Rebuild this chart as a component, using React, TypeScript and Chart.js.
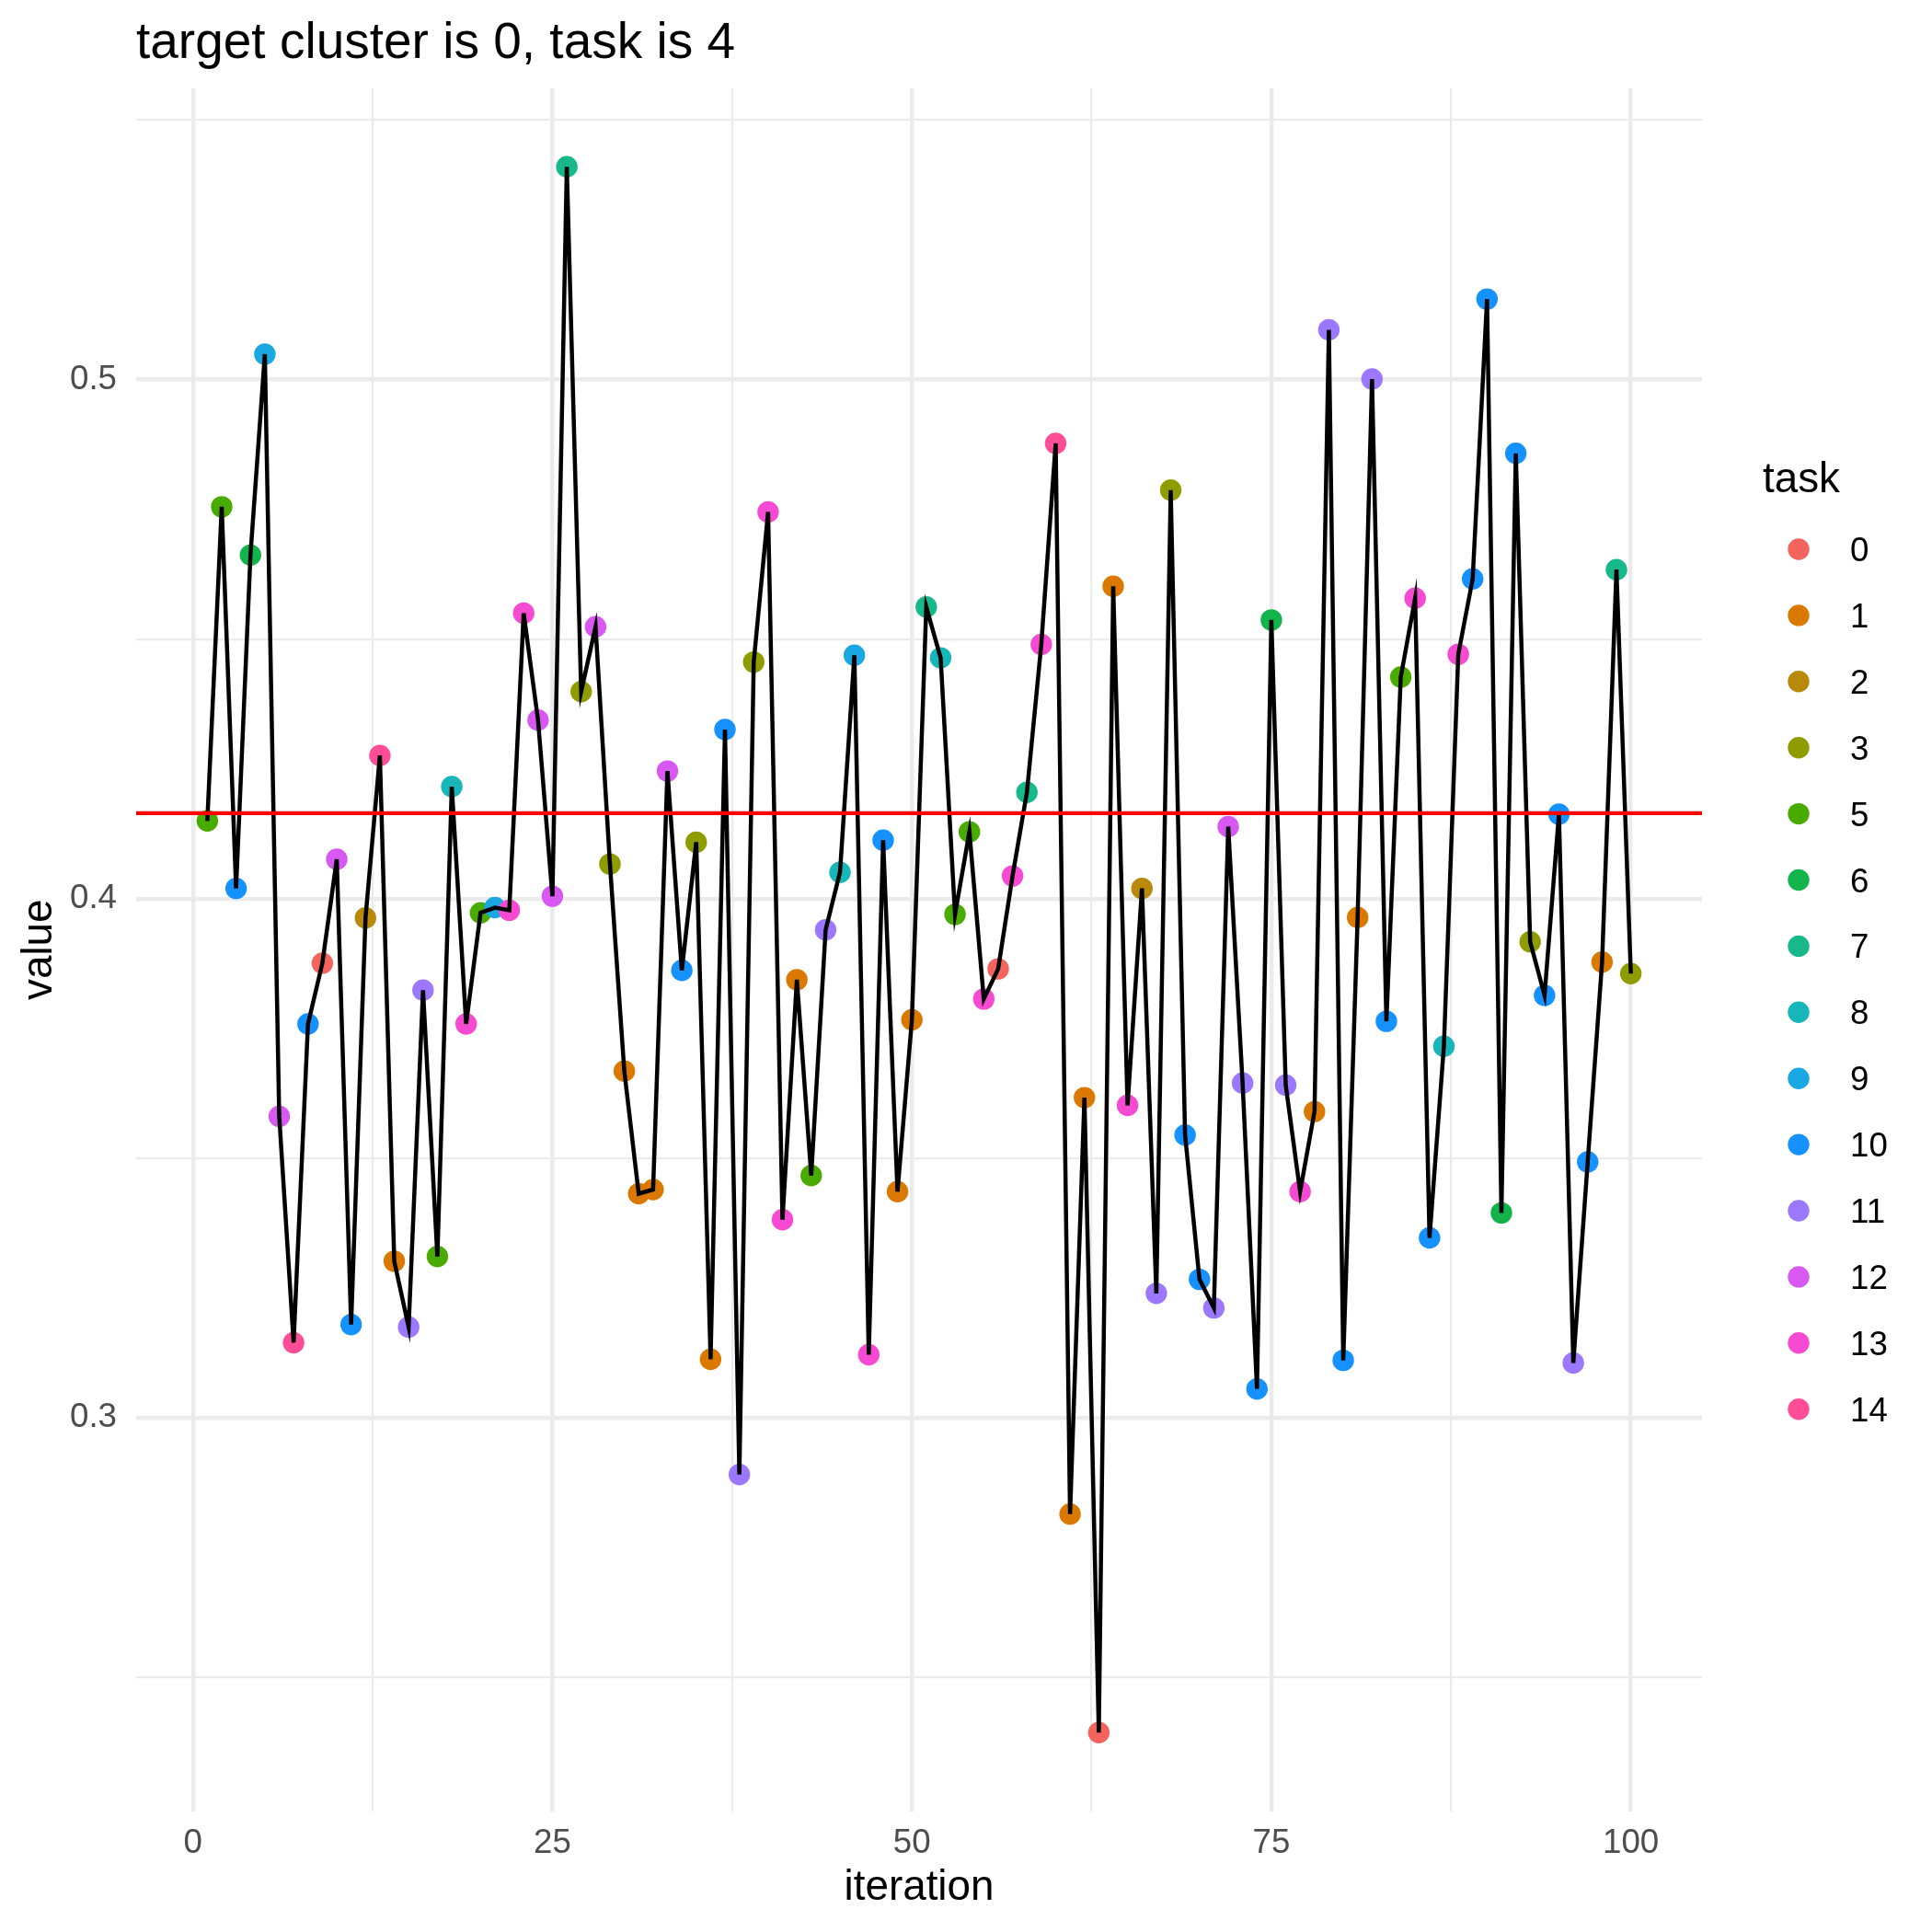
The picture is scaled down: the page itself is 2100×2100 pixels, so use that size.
import React, { useEffect, useRef } from "react";
import { Chart, registerables } from "chart.js";

Chart.register(...registerables);

// ---------- data ----------
const values = [
  0.4150, 0.4755, 0.4020, 0.4662, 0.5049, 0.3581, 0.3145, 0.3759, 0.3876, 0.4076,
  0.3180, 0.3963, 0.4276, 0.3302, 0.3175, 0.3824, 0.3311, 0.4216, 0.3759, 0.3973,
  0.3983, 0.3978, 0.4550, 0.4344, 0.4005, 0.5410, 0.4399, 0.4524, 0.4067, 0.3668,
  0.3432, 0.3440, 0.4246, 0.3862, 0.4109, 0.3113, 0.4326, 0.2891, 0.4456, 0.4745,
  0.3382, 0.3844, 0.3467, 0.3940, 0.4051, 0.4469, 0.3122, 0.4113, 0.3436, 0.3767,
  0.4562, 0.4464, 0.3970, 0.4129, 0.3807, 0.3865, 0.4044, 0.4205, 0.4490, 0.4877,
  0.2815, 0.3617, 0.2394, 0.4602, 0.3602, 0.4020, 0.3240, 0.4787, 0.3545, 0.3267,
  0.3212, 0.4139, 0.3645, 0.3056, 0.4537, 0.3641, 0.3436, 0.3590, 0.5096, 0.3111,
  0.3964, 0.5001, 0.3764, 0.4427, 0.4579, 0.3347, 0.3716, 0.4471, 0.4616, 0.5155,
  0.3395, 0.4858, 0.3917, 0.3814, 0.4163, 0.3106, 0.3493, 0.3878, 0.4634, 0.3856,
];

const tasks = [
  5, 5, 10, 6, 9, 12, 14, 10, 0, 12,
  10, 2, 14, 1, 11, 11, 5, 8, 13, 5,
  9, 13, 13, 12, 12, 7, 3, 12, 3, 1,
  1, 1, 12, 10, 3, 1, 10, 11, 3, 13,
  13, 1, 5, 11, 8, 9, 13, 10, 1, 1,
  7, 8, 5, 5, 13, 0, 13, 7, 13, 14,
  1, 1, 0, 1, 13, 2, 11, 3, 10, 10,
  11, 12, 11, 10, 6, 11, 13, 1, 11, 10,
  1, 11, 10, 5, 13, 10, 8, 13, 10, 10,
  6, 10, 3, 10, 10, 11, 10, 1, 7, 3,
];

const taskLevels = [0, 1, 2, 3, 5, 6, 7, 8, 9, 10, 11, 12, 13, 14];
const taskColors = [
  "#F4645E", "#DB7800", "#B8890A", "#8E9C00", "#49AB00", "#12B44B", "#17B98A",
  "#16B6B9", "#1AA8E3", "#1592FF", "#9B78FF", "#D858F2", "#F74AD2", "#FF4E97",
];

const referenceValue = 0.4165;

const xGridValues = [0, 12.5, 25, 37.5, 50, 62.5, 75, 87.5, 100];
const xMajorValues = [0, 25, 50, 75, 100];
const xTickLabels = ["0", "25", "50", "75", "100"];
const yGridValues = [0.25, 0.3, 0.35, 0.4, 0.45, 0.5, 0.55];
const yMajorValues = [0.3, 0.4, 0.5];
const yTickLabels = ["0.3", "0.4", "0.5"];

const xLimits = [-3.95, 104.95];
const yLimits = [0.2243, 0.5561];

const titleText = "target cluster is 0, task is 4";
const xTitle = "iteration";
const yTitle = "value";
const legendTitle = "task";

// ---------- styling ----------
const FONT = "'Liberation Sans', Arial, Helvetica, sans-serif";
const W = 2100;
const H = 2100;

const findIdx = (arr: number[], v: number) =>
  arr.findIndex((m) => Math.abs(m - v) < 1e-9);

const overlayPlugin = {
  id: "overlay",
  afterDraw(chart: any) {
    const ctx = chart.ctx as CanvasRenderingContext2D;
    ctx.save();
    ctx.fillStyle = "#000000";
    ctx.textAlign = "left";
    ctx.textBaseline = "alphabetic";
    ctx.font = `55px ${FONT}`;
    ctx.fillText(titleText, chart.chartArea.left, 63);

    ctx.font = `45.8px ${FONT}`;
    ctx.fillText(legendTitle, 1916, 535);
    ctx.font = `36.7px ${FONT}`;
    taskLevels.forEach((t, i) => {
      const cy = 597 + i * 71.9;
      ctx.beginPath();
      ctx.arc(1955, cy, 11.7, 0, Math.PI * 2);
      ctx.fillStyle = taskColors[i];
      ctx.fill();
      ctx.fillStyle = "#000000";
      ctx.fillText(String(t), 2011, cy + 13);
    });
    ctx.restore();
  },
};

export default function App() {
  const canvasRef = useRef<HTMLCanvasElement | null>(null);

  useEffect(() => {
    if (!canvasRef.current) return;
    const colorOf = (t: number) => taskColors[taskLevels.indexOf(t)];
    const pts = values.map((v, i) => ({ x: i + 1, y: v }));

    const chart = new Chart(canvasRef.current, {
      type: "scatter",
      data: {
        datasets: [
          {
            label: "reference",
            data: [
              { x: xLimits[0], y: referenceValue },
              { x: xLimits[1], y: referenceValue },
            ],
            showLine: true,
            borderColor: "#FF0000",
            borderWidth: 4.4,
            pointRadius: 0,
            order: 0,
          },
          {
            label: "line",
            data: pts,
            showLine: true,
            borderColor: "#000000",
            borderWidth: 4.5,
            pointRadius: 0,
            tension: 0,
            order: 1,
          },
          {
            label: "points",
            data: pts,
            showLine: false,
            pointRadius: 11.7,
            pointBorderWidth: 0,
            pointBackgroundColor: tasks.map(colorOf),
            backgroundColor: tasks.map(colorOf),
            borderWidth: 0,
            order: 2,
          },
        ],
      },
      options: {
        animation: false,
        responsive: false,
        maintainAspectRatio: false,
        layout: { padding: { left: 0, top: 96, right: 250, bottom: 0 } },
        plugins: {
          legend: { display: false },
          title: { display: false },
          tooltip: { enabled: false },
        },
        scales: {
          x: {
            type: "linear",
            min: xLimits[0],
            max: xLimits[1],
            afterBuildTicks: (scale: any) => {
              scale.ticks = xGridValues.map((v) => ({ value: v }));
            },
            afterFit: (scale: any) => {
              scale.height = 131.5;
            },
            border: { display: false },
            grid: {
              drawTicks: false,
              color: "#EBEBEB",
              lineWidth: (ctx: any) =>
                findIdx(xMajorValues, ctx.tick?.value) >= 0 ? 4.4 : 2.2,
            },
            ticks: {
              autoSkip: false,
              maxRotation: 0,
              padding: 13,
              color: "#4D4D4D",
              font: { family: FONT, size: 36.7 },
              callback: (v: any) => {
                const i = findIdx(xMajorValues, Number(v));
                return i >= 0 ? xTickLabels[i] : "";
              },
            },
            title: {
              display: true,
              text: xTitle,
              color: "#000000",
              font: { family: FONT, size: 45.8 },
              padding: { top: 0, bottom: 20 },
            },
          },
          y: {
            type: "linear",
            min: yLimits[0],
            max: yLimits[1],
            afterBuildTicks: (scale: any) => {
              scale.ticks = yGridValues.map((v) => ({ value: v }));
            },
            afterFit: (scale: any) => {
              scale.width = 148;
            },
            border: { display: false },
            grid: {
              drawTicks: false,
              color: "#EBEBEB",
              lineWidth: (ctx: any) =>
                findIdx(yMajorValues, ctx.tick?.value) >= 0 ? 4.4 : 2.2,
            },
            ticks: {
              autoSkip: false,
              padding: 21,
              color: "#4D4D4D",
              font: { family: FONT, size: 36.7 },
              callback: (v: any) => {
                const i = findIdx(yMajorValues, Number(v));
                return i >= 0 ? yTickLabels[i] : "";
              },
            },
            title: {
              display: true,
              text: yTitle,
              color: "#000000",
              font: { family: FONT, size: 45.8 },
              padding: { top: 16, bottom: 0 },
            },
          },
        },
      },
      plugins: [overlayPlugin],
    } as any);

    return () => chart.destroy();
  }, []);

  return (
    <div
      style={{
        position: "absolute",
        left: 0,
        top: 0,
        width: W,
        height: H,
        background: "#FFFFFF",
      }}
    >
      <canvas ref={canvasRef} width={W} height={H} style={{ width: W, height: H }} />
    </div>
  );
}
